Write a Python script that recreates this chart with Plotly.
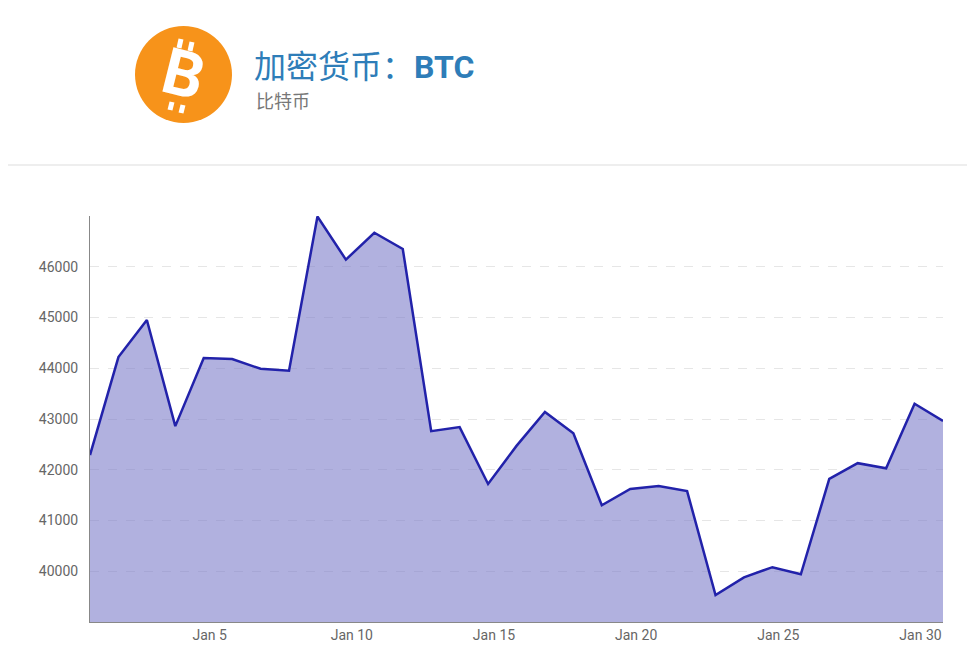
import plotly.graph_objects as go

dates = ["2024-01-%02d" % d for d in range(1, 32)]
prices = [42290, 44220, 44950, 42860, 44200, 44180, 43990, 43950, 46990, 46140,
          46670, 46350, 42760, 42840, 41720, 42470, 43140, 42720, 41300, 41620,
          41680, 41580, 39530, 39880, 40080, 39940, 41820, 42130, 42030, 43300, 42960]
tick_dates = ["2024-01-05T05:00", "2024-01-10T05:00", "2024-01-15T05:00",
              "2024-01-20T05:00", "2024-01-25T05:00", "2024-01-30T05:00"]
tick_text = ["Jan 5", "Jan 10", "Jan 15", "Jan 20", "Jan 25", "Jan 30"]
y_ticks = [40000, 41000, 42000, 43000, 44000, 45000, 46000]

PW, PH = 853, 406
def px(x): return (x - 89) / PW
def py(y): return 1 + (217 - y) / PH

fig = go.Figure(go.Scatter(
    x=dates, y=prices, mode="lines", fill="tozeroy",
    line=dict(color="#2222aa", width=2.5), fillcolor="rgba(120,120,200,0.58)"))

bars = [((180, 40), (178, 49)), ((191, 43), (189, 52)),
        ((171, 103), (169, 111)), ((182, 106), (180, 114))]
shapes = [
    dict(type="circle", xref="paper", yref="paper", xsizemode="pixel", ysizemode="pixel",
         xanchor=0.0, yanchor=1.0, x0=134 - 89, x1=231 - 89, y0=217 - 124, y1=217 - 27,
         fillcolor="#f7931a", line=dict(width=0), layer="above"),
    dict(type="line", xref="paper", yref="paper", x0=px(-20), x1=px(1000),
         y0=py(166), y1=py(166), line=dict(color="#dddddd", width=1)),
]
for (a, b) in bars:
    shapes.append(dict(type="line", xref="paper", yref="paper", x0=px(a[0]), y0=py(a[1]),
                       x1=px(b[0]), y1=py(b[1]), line=dict(color="white", width=5), layer="above"))

fig.update_layout(
    width=975, height=667, paper_bgcolor="white", plot_bgcolor="white",
    margin=dict(l=82, r=40, t=208, b=53), showlegend=False,
    font=dict(family="Roboto, Noto Sans CJK SC", color="#666"),
    xaxis=dict(range=["2024-01-01", "2024-01-31"], tickvals=tick_dates, ticktext=tick_text,
               showgrid=False, showline=True, linecolor="#888", linewidth=1,
               tickfont=dict(size=14, color="#666"), ticks=""),
    yaxis=dict(range=[39000, 47000], tickvals=y_ticks, ticktext=[str(v) for v in y_ticks],
               showgrid=True, gridcolor="#e6e6e6", griddash="dash", zeroline=False,
               showline=True, linecolor="#888", linewidth=1,
               tickfont=dict(size=14, color="#666"), ticks="", ticklabelstandoff=8),
    shapes=shapes,
    annotations=[
        dict(text="<b>B</b>", xref="paper", yref="paper", x=px(182), y=py(76),
             xanchor="center", yanchor="middle", showarrow=False, textangle=14,
             font=dict(size=64, color="white", family="Roboto")),
        dict(text="加密货币：<b>BTC</b>", xref="paper", yref="paper",
             x=px(251), y=py(68), xanchor="left", yanchor="middle",
             showarrow=False, font=dict(size=32, color="#2e7db8", family="Roboto, Noto Sans CJK SC")),
        dict(text="比特币", xref="paper", yref="paper",
             x=px(253), y=py(101), xanchor="left", yanchor="middle",
             showarrow=False, font=dict(size=18, color="#777", family="Noto Sans CJK SC")),
    ],
)
fig.write_html("out.html")
